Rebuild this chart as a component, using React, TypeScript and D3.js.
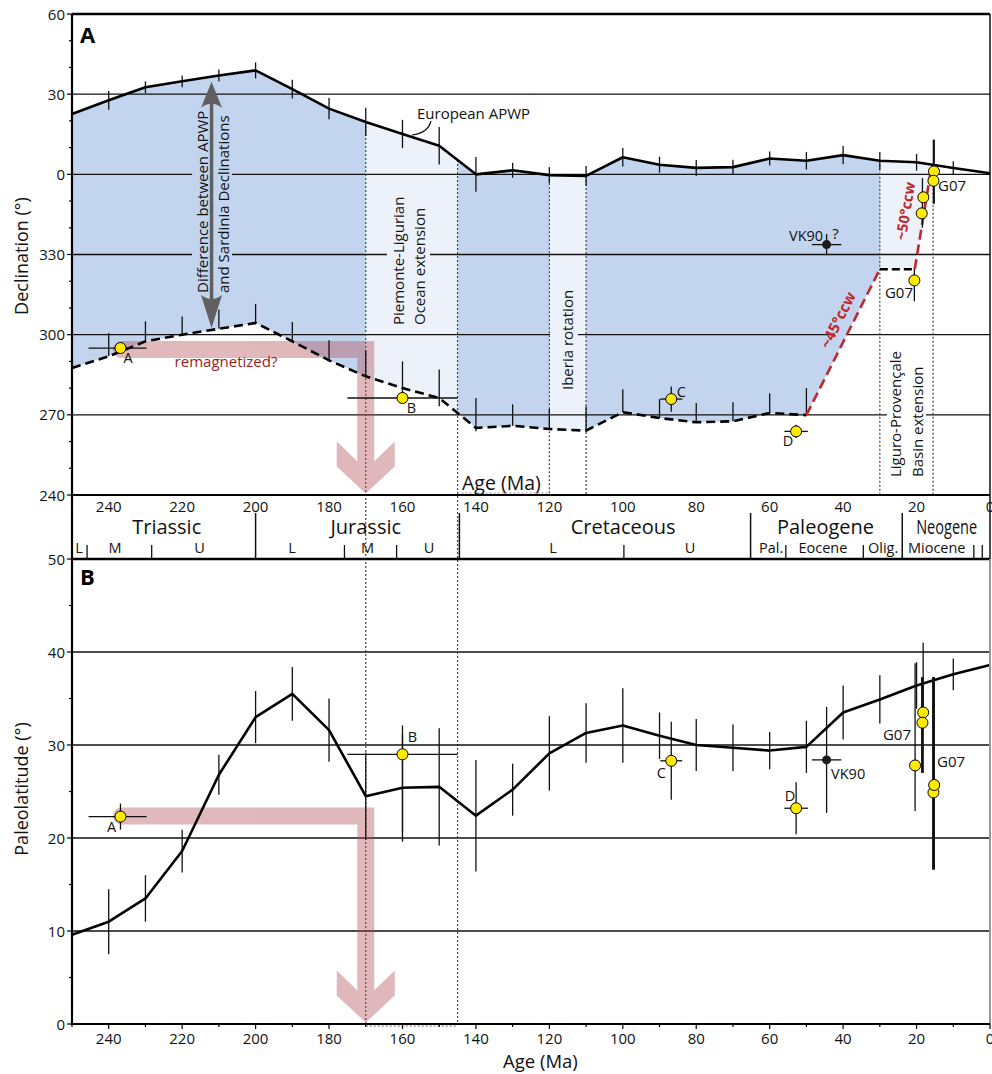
import React from 'react';
import * as d3 from 'd3';

// ---------- DATA ----------
const ages = [250, 240, 230, 220, 210, 200, 190, 180, 170, 160, 150, 140, 130, 120, 110, 100, 90, 80, 70, 60, 50, 40, 30, 20, 10, 0];
// European APWP declination (deg, negative = 360 - x)
const apwpDec = [22.6, 27.7, 32.6, 34.8, 37.0, 38.9, 31.9, 24.6, 19.6, 15.1, 10.7, 0.0, 1.5, -0.3, -0.6, 6.4, 3.6, 2.4, 2.7, 5.9, 5.1, 7.2, 5.1, 4.5, 2.4, 0.4];
const apwpDecErr = [0, 3.5, 2.2, 2.2, 2.2, 3.0, 3.5, 4.0, 5.3, 5.3, 7.0, 6.5, 2.8, 3.0, 3.7, 3.5, 3.0, 3.0, 2.8, 2.6, 3.3, 3.4, 3.3, 3.1, 2.5, 0];
// Sardinia (rotated) declination, 250 -> 50 Ma
const sardAges = [250, 240, 230, 220, 210, 200, 190, 180, 170, 160, 150, 140, 130, 120, 110, 100, 90, 80, 70, 60, 50];
const sardDec = [-72.5, -68.1, -62.5, -60.0, -57.8, -55.6, -62.5, -69.6, -75.6, -80.0, -83.7, -94.9, -94.1, -95.3, -95.9, -89.0, -91.2, -92.8, -92.4, -89.3, -90.1];
const sardBarUp = [0, 8.7, 7.5, 6.8, 7.2, 7.1, 7.2, 7.5, 9.7, 10.0, 10.7, 11.2, 8.0, 7.5, 9.1, 8.6, 7.1, 7.2, 7.1, 7.4, 10.1];
const sardBarDown = [0, 0, 0, 0, 0, 0, 0, 0, 0, 5.0, 3.1, 1.2, 0, 0, 0, 0, 0, 0, 0, 0, 0];
// rotation paths
const rotRed1: [number, number][] = [[50, -90.1], [30, -35.5]];
const rotFlat: [number, number][] = [[30, -35.5], [20.5, -35.5]];
const rotRed2: [number, number][] = [[20.5, -35.5], [16.2, 0.5]];
// European APWP paleolatitude
const apwpLat = [9.6, 11.0, 13.5, 18.6, 26.8, 33.0, 35.5, 31.6, 24.5, 25.4, 25.5, 22.4, 25.2, 29.1, 31.3, 32.1, 31.0, 30.0, 29.7, 29.4, 29.8, 33.5, 34.9, 36.4, 37.6, 38.6];
const apwpLatErr = [3.6, 3.5, 2.5, 2.3, 2.15, 2.8, 2.9, 3.4, 4.7, 5.8, 6.3, 6.0, 2.8, 4.0, 3.2, 4.0, 2.5, 2.8, 2.5, 2.0, 2.8, 2.9, 2.6, 2.5, 1.7, 1.8];

// Sardinian sites
const siteNames = ['A', 'B', 'C', 'D', 'VK90'];
const siteAge = [236.8, 160, 86.8, 52.8, 44.5];
const siteAgeLo = [229.7, 145, 83.8, 49.6, 40.5];
const siteAgeHi = [245.5, 175, 89.8, 56.0, 48.5];
const siteDec = [-65.0, -83.7, -84.1, -96.2, -26.3];
const siteDecErr = [0, 0, 4.7, 2.5, 4.0];
const siteLat = [22.3, 29.0, 28.3, 23.2, 28.4];
const siteLatLo = [20.9, 20.6, 24.1, 20.4, 22.7];
const siteLatHi = [23.7, 32.1, 32.5, 26.0, 34.1];
const siteBlack = [false, false, false, false, true];

// G07 sites
const g07AgeA = [15.25, 15.4, 18.15, 18.6, 20.6];
const g07DecA = [1.1, -2.4, -8.6, -14.6, -39.7];
const g07BarAgeA = [15.3, 18.4, 20.6];
const g07BarLoA = [-11.0, -20.0, -47.5];
const g07BarHiA = [13.0, -1.4, -35.5];
const g07BarThickA = [true, false, false];

const g07AgeB = [20.4, 18.2, 18.4, 15.4, 15.2];
const g07LatB = [27.8, 33.5, 32.4, 24.9, 25.7];
const g07LatLoB = [22.9, 34.0, 27.0, 16.6, 16.6];
const g07LatHiB = [38.8, 41.0, 37.3, 37.3, 37.3];
const g07ThickB = [false, false, true, true, false];

// Timescale
const xTicks = [240, 220, 200, 180, 160, 140, 120, 100, 80, 60, 40, 20, 0];
const periodBounds = [200, 144.5, 65.2, 23.9];
const periodNames = ['Triassic', 'Jurassic', 'Cretaceous', 'Paleogene', 'Neogene'];
const periodLabelAges = [224.2, 170, 99.9, 44.8, 11.8];
const epochTicks = [245.9, 228.3, 175.8, 161.6, 99.7, 55.6, 34.5, 4.4, 2.1];
const epochNames = ['L', 'M', 'U', 'L', 'M', 'U', 'L', 'U', 'Pal.', 'Eocene', 'Olig.', 'Miocene'];
const epochLabelAges = [248.1, 238.3, 215.3, 190.1, 169.5, 152.8, 119, 81.7, 59.6, 45.5, 29.1, 14.5];

// Tectonic events (age bands)
const bandStart = [170, 120, 30];
const bandEnd = [145, 110, 15.5];

const decTicks = [60, 30, 0, -30, -60, -90, -120];
const latTicks = [50, 40, 30, 20, 10, 0];

const remagAge = 170;

// ---------- STYLE ----------
const F = "'Open Sans', sans-serif";
const BLUE = '#c3d4ef';
const LIGHT = '#edf2fa';
const RED = '#c1272d';
const YEL = '#ffeb00';

export default function App() {
  const x = d3.scaleLinear().domain([250, 0]).range([72, 990]);
  const yA = d3.scaleLinear().domain([-120, 60]).range([495, 14]);
  const yB = d3.scaleLinear().domain([0, 50]).range([1024, 559]);
  const decAt = d3.scaleLinear().domain(ages).range(apwpDec);
  const sardAt = d3.scaleLinear().domain(sardAges).range(sardDec);

  const lineA = d3.line<[number, number]>().x(d => x(d[0])).y(d => yA(d[1]));
  const lineB = d3.line<[number, number]>().x(d => x(d[0])).y(d => yB(d[1]));

  const apwpPtsA: [number, number][] = ages.map((a, i) => [a, apwpDec[i]]);
  const sardPts: [number, number][] = sardAges.map((a, i) => [a, sardDec[i]]);
  const apwpPtsB: [number, number][] = ages.map((a, i) => [a, apwpLat[i]]);

  // fill polygon
  const endAge = bandEnd[2];
  const top: [number, number][] = apwpPtsA.filter(d => d[0] >= 20);
  top.push([endAge, decAt(endAge)]);
  top.push([endAge, 0.5]);
  const bottom: [number, number][] = [
    ...rotRed2.slice().reverse(),
    ...rotFlat.slice().reverse().slice(1),
    ...rotRed1.slice().reverse().slice(1),
    ...sardPts.slice().reverse().slice(1),
  ];
  const poly = lineA([...top, ...bottom]) + 'Z';

  const fmtDec = (v: number) => String(v < 0 ? v + 360 : v);

  // remag arrow
  const arrow = (y0: number, yBot: number, ax: number) => {
    const cx = x(remagAge);
    const tip = yBot - 1.5;
    const notch = tip - 24;
    const side = tip - 27;
    const topH = tip - 52;
    return (
      <g opacity={0.38}>
        <path d={`M${ax},${y0} L${cx},${y0} L${cx},${notch + 2}`} fill="none" stroke="#b0474f" strokeWidth={17} strokeLinecap="round" strokeLinejoin="miter" />
        <path d={`M${cx - 29},${topH} L${cx},${notch} L${cx + 29},${topH} L${cx + 29},${side} L${cx},${tip} L${cx - 29},${side} Z`} fill="#b0474f" />
      </g>
    );
  };

  const siteCircle = (cx: number, cy: number, black: boolean, key: string) =>
    black ? <circle key={key} cx={cx} cy={cy} r={4.5} fill="#1a1a1a" /> : <circle key={key} cx={cx} cy={cy} r={5.5} fill={YEL} stroke="#000" strokeWidth={1} />;

  const labelA: Record<string, [number, number, string]> = {
    A: [7.5, 15, 'middle'], B: [9, 15, 'middle'], C: [10, -2, 'middle'], D: [-8, 15, 'middle'], VK90: [-3.5, -4, 'end'],
  };
  const labelB: Record<string, [number, number, string]> = {
    A: [-9, 15, 'middle'], B: [10, -12, 'middle'], C: [-10, 17, 'middle'], D: [-6, -7, 'middle'], VK90: [4.5, 19, 'start'],
  };

  // knockout rects (gaps in gridlines behind labels)
  const knock = [
    { x0: 192, x1: 232, y: yA(0), fill: BLUE },
    { x0: 192, x1: 232, y: yA(-30), fill: BLUE },
    { x0: 387, x1: 430, y: yA(-30), fill: LIGHT },
    { x0: 550, x1: 578, y: yA(-60), fill: LIGHT },
    { x0: 887, x1: 926, y: yA(-90), fill: '#ffffff' },
    { x0: 835, x1: 846, y: yA(-60), fill: BLUE },
  ];

  const dotted = { stroke: '#444', strokeWidth: 1.2, strokeDasharray: '2 2' };

  return (
    <svg width={992} height={1074} style={{ position: 'absolute', left: 0, top: 0, background: '#fff' }} fontFamily={F}>
      <defs>
        <clipPath id="polyClip"><path d={poly} /></clipPath>
      </defs>
      {/* ===== PANEL A ===== */}
      <path d={poly} fill={BLUE} />
      <g clipPath="url(#polyClip)">
        {bandStart.map((s, i) => (
          <rect key={i} x={x(s)} y={yA(60)} width={x(bandEnd[i]) - x(s)} height={yA(-120) - yA(60)} fill={LIGHT} />
        ))}
      </g>
      {[30, 0, -30, -60, -90].map(v => (
        <line key={v} x1={72} x2={990} y1={yA(v)} y2={yA(v)} stroke="#111" strokeWidth={1.3} />
      ))}
      {knock.map((k, i) => <rect key={i} x={k.x0} y={k.y - 2} width={k.x1 - k.x0} height={4} fill={k.fill} />)}

      {/* dotted event lines */}
      {[170, 145].map(a => <line key={a} x1={x(a)} x2={x(a)} y1={yA(decAt(a))} y2={yB(0)} {...dotted} />)}
      {[120, 110, 30, 15.5].map(a => <line key={a} x1={x(a)} x2={x(a)} y1={yA(decAt(a))} y2={495} {...dotted} />)}
      <line x1={x(145)} x2={x(120)} y1={493} y2={493} {...dotted} stroke="#999" />
      <line x1={x(170)} x2={x(145)} y1={1026} y2={1026} {...dotted} stroke="#777" />

      {/* remagnetized arrow A */}
      {arrow(yA(siteDec[0]) + 1.5, 495, x(siteAge[0]) + 1)}
      <text x={226} y={367} fontSize={15} fill="#9b1c22" textAnchor="middle">remagnetized?</text>

      {/* APWP declination */}
      {ages.map((a, i) => apwpDecErr[i] > 0 ? (
        <line key={a} x1={x(a)} x2={x(a)} y1={yA(apwpDec[i] - apwpDecErr[i])} y2={yA(apwpDec[i] + apwpDecErr[i])} stroke="#111" strokeWidth={1.3} />
      ) : null)}
      <path d={lineA(apwpPtsA)!} fill="none" stroke="#000" strokeWidth={2.6} strokeLinejoin="round" />
      {/* Sardinia dashed */}
      {sardAges.map((a, i) => sardBarUp[i] > 0 ? (
        <line key={a} x1={x(a)} x2={x(a)} y1={yA(sardDec[i] - sardBarDown[i])} y2={yA(sardDec[i] + sardBarUp[i])} stroke="#111" strokeWidth={1.3} />
      ) : null)}
      <path d={lineA(sardPts)!} fill="none" stroke="#000" strokeWidth={2.6} strokeDasharray="9 5" />
      <path d={lineA(rotFlat)!} fill="none" stroke="#000" strokeWidth={2.6} strokeDasharray="8 4" />
      <path d={lineA(rotRed1)!} fill="none" stroke={RED} strokeWidth={2.6} strokeDasharray="10 5" />
      <path d={lineA(rotRed2)!} fill="none" stroke={RED} strokeWidth={2.6} strokeDasharray="10 5" />

      {/* gray double arrow */}
      {(() => {
        const ax = x(212);
        const t = yA(decAt(212)) + 5;
        const b = yA(sardAt(212)) - 2;
        return (
          <g fill="#606060">
            <line x1={ax} x2={ax} y1={t + 20} y2={b - 20} stroke="#606060" strokeWidth={3.5} />
            <path d={`M${ax},${t} L${ax + 10.5},${t + 26} Q${ax},${t + 18} ${ax - 10.5},${t + 26} Z`} />
            <path d={`M${ax},${b} L${ax + 10.5},${b - 33} Q${ax},${b - 25} ${ax - 10.5},${b - 33} Z`} />
          </g>
        );
      })()}

      {/* annotations A */}
      <text fontSize={15} fill="#111" transform="translate(208,293) rotate(-90)">Difference between APWP</text>
      <text fontSize={15} fill="#111" transform="translate(229,293) rotate(-90)">and Sardinia Declinations</text>
      <text fontSize={15} fill="#111" transform="translate(404,325) rotate(-90)">Piemonte-Ligurian</text>
      <text fontSize={15} fill="#111" transform="translate(425,325) rotate(-90)">Ocean extension</text>
      <text fontSize={15} fill="#111" transform="translate(572.5,390) rotate(-90)">Iberia rotation</text>
      <text fontSize={15} fill="#111" transform="translate(900.7,477) rotate(-90)">Liguro-Provençale</text>
      <text fontSize={15} fill="#111" transform="translate(922.5,477) rotate(-90)">Basin extension</text>
      <text fontSize={15} fontWeight="bold" fill={RED} textAnchor="middle" dy="0.35em" transform="translate(838,320) rotate(-63.7)">~45°ccw</text>
      <text fontSize={14.5} fontWeight="bold" fill={RED} textAnchor="middle" dy="0.35em" transform="translate(905.5,211) rotate(-80.5)">~50°ccw</text>
      <text x={417} y={119} fontSize={15} fill="#111">European APWP</text>
      <path d="M431,121 Q428,133 412,135" fill="none" stroke="#111" strokeWidth={1.2} />
      <text x={80} y={43} fontSize={22} fontWeight="bold" fill="#000">A</text>
      <text x={462} y={490} fontSize={19.5} fill="#111">Age (Ma)</text>

      {/* G07 A */}
      {g07BarAgeA.map((a, i) => (
        <line key={i} x1={x(a)} x2={x(a)} y1={yA(g07BarLoA[i])} y2={yA(g07BarHiA[i])} stroke="#111" strokeWidth={g07BarThickA[i] ? 2.2 : 1.3} />
      ))}
      {g07AgeA.map((a, i) => siteCircle(x(a), yA(g07DecA[i]), false, 'ga' + i))}
      <text x={938} y={191} fontSize={15} fill="#111">G07</text>
      <text x={899} y={298} fontSize={15} fill="#111" textAnchor="middle">G07</text>

      {/* sites A */}
      {siteNames.map((n, i) => (
        <g key={n}>
          <line x1={x(siteAgeLo[i])} x2={x(siteAgeHi[i])} y1={yA(siteDec[i])} y2={yA(siteDec[i])} stroke="#111" strokeWidth={1.3} />
          {siteDecErr[i] > 0 && <line x1={x(siteAge[i])} x2={x(siteAge[i])} y1={yA(siteDec[i] - siteDecErr[i])} y2={yA(siteDec[i] + siteDecErr[i])} stroke="#111" strokeWidth={1.3} />}
          {siteCircle(x(siteAge[i]), yA(siteDec[i]), siteBlack[i], 'c')}
          <text x={x(siteAge[i]) + labelA[n][0]} y={yA(siteDec[i]) + labelA[n][1]} fontSize={14.5} fill="#111" textAnchor={labelA[n][2] as any}>{n}</text>
        </g>
      ))}
      <text x={835.5} y={239} fontSize={15} fill="#111" textAnchor="middle">?</text>

      {/* axes A */}
      <line x1={72} x2={990} y1={14} y2={14} stroke="#000" strokeWidth={2.5} />
      <line x1={990} x2={990} y1={14} y2={559} stroke="#111" strokeWidth={1.5} />
      <line x1={72} x2={990} y1={495} y2={495} stroke="#000" strokeWidth={2.2} />
      {d3.range(-120, 61, 10).map(v => (
        <line key={v} x1={v % 30 === 0 ? 67 : 69} x2={72} y1={yA(v)} y2={yA(v)} stroke="#000" strokeWidth={1.2} />
      ))}
      {decTicks.map(v => (
        <text key={v} x={65} y={yA(v) + 5.5} fontSize={15} textAnchor="end" fill="#111">{fmtDec(v)}</text>
      ))}
      <text fontSize={18} textAnchor="middle" fill="#111" transform="translate(28,256) rotate(-90)">Declination (°)</text>

      {/* ===== TIMESCALE ===== */}
      {xTicks.map(v => (
        <text key={v} x={x(v)} y={511.5} fontSize={15} textAnchor="middle" fill="#111">{v}</text>
      ))}
      {periodBounds.map(a => <line key={a} x1={x(a)} x2={x(a)} y1={513} y2={559} stroke="#111" strokeWidth={1.5} />)}
      {epochTicks.map(a => <line key={a} x1={x(a)} x2={x(a)} y1={545} y2={559} stroke="#111" strokeWidth={1.3} />)}
      {periodNames.map((n, i) => (
        n === 'Neogene'
          ? <text key={n} x={x(periodLabelAges[i]) - 30.5} y={533.5} fontSize={20} fill="#111" textLength={61} lengthAdjust="spacingAndGlyphs">{n}</text>
          : <text key={n} x={x(periodLabelAges[i])} y={533.5} fontSize={20} textAnchor="middle" fill="#111">{n}</text>
      ))}
      {epochNames.map((n, i) => (
        <text key={i} x={x(epochLabelAges[i])} y={553} fontSize={14.5} textAnchor="middle" fill="#111">{n}</text>
      ))}

      {/* ===== PANEL B ===== */}
      {[10, 20, 30, 40].map(v => (
        <line key={v} x1={72} x2={990} y1={yB(v)} y2={yB(v)} stroke="#111" strokeWidth={1.5} />
      ))}
      {arrow(yB(siteLat[0]) - 0.5, 1024, x(siteAge[0]) + 1)}

      {ages.map((a, i) => (
        <line key={a} x1={x(a)} x2={x(a)} y1={yB(apwpLat[i] - apwpLatErr[i])} y2={yB(apwpLat[i] + apwpLatErr[i])} stroke="#111" strokeWidth={1.3} />
      ))}
      <path d={lineB(apwpPtsB)!} fill="none" stroke="#000" strokeWidth={2.6} strokeLinejoin="round" />

      {/* G07 B */}
      {g07AgeB.map((a, i) => (
        <line key={i} x1={x(a)} x2={x(a)} y1={yB(g07LatLoB[i])} y2={yB(g07LatHiB[i])} stroke="#111" strokeWidth={g07ThickB[i] ? 2.8 : 1.3} />
      ))}
      {g07AgeB.map((a, i) => siteCircle(x(a), yB(g07LatB[i]), false, 'gb' + i))}
      <text x={911} y={740} fontSize={15} fill="#111" textAnchor="end">G07</text>
      <text x={937} y={766.5} fontSize={15} fill="#111">G07</text>

      {siteNames.map((n, i) => (
        <g key={n}>
          <line x1={x(siteAgeLo[i])} x2={x(siteAgeHi[i])} y1={yB(siteLat[i])} y2={yB(siteLat[i])} stroke="#111" strokeWidth={1.3} />
          <line x1={x(siteAge[i])} x2={x(siteAge[i])} y1={yB(siteLatLo[i])} y2={yB(siteLatHi[i])} stroke="#111" strokeWidth={1.3} />
          {siteCircle(x(siteAge[i]), yB(siteLat[i]), siteBlack[i], 'c')}
          <text x={x(siteAge[i]) + labelB[n][0]} y={yB(siteLat[i]) + labelB[n][1]} fontSize={14.5} fill="#111" textAnchor={labelB[n][2] as any}>{n}</text>
        </g>
      ))}

      <text x={80} y={585} fontSize={22} fontWeight="bold" fill="#000">B</text>

      {/* axes B */}
      <line x1={72} x2={990} y1={559} y2={559} stroke="#000" strokeWidth={2.5} />
      <line x1={990} x2={990} y1={559} y2={1024} stroke="#999" strokeWidth={2} />
      <line x1={72} x2={990} y1={1024} y2={1024} stroke="#000" strokeWidth={2.2} />
      <line x1={72} x2={72} y1={14} y2={1025} stroke="#000" strokeWidth={2.2} />
      {d3.range(0, 51, 5).map(v => (
        <line key={v} x1={v % 10 === 0 ? 67 : 69} x2={72} y1={yB(v)} y2={yB(v)} stroke="#000" strokeWidth={1.2} />
      ))}
      {latTicks.map(v => (
        <text key={v} x={65} y={yB(v) + 5.5} fontSize={15} textAnchor="end" fill="#111">{v}</text>
      ))}
      {d3.range(0, 251, 10).map(v => (
        <line key={v} x1={x(v)} x2={x(v)} y1={1024} y2={v % 20 === 0 ? 1029 : 1027} stroke="#000" strokeWidth={1.2} />
      ))}
      {xTicks.map(v => (
        <text key={v} x={x(v)} y={1044} fontSize={15} textAnchor="middle" fill="#111">{v}</text>
      ))}
      <text x={503} y={1068} fontSize={18.5} fill="#111">Age (Ma)</text>
      <text fontSize={18} textAnchor="middle" fill="#111" transform="translate(28,789) rotate(-90)">Paleolatitude (°)</text>
    </svg>
  );
}
